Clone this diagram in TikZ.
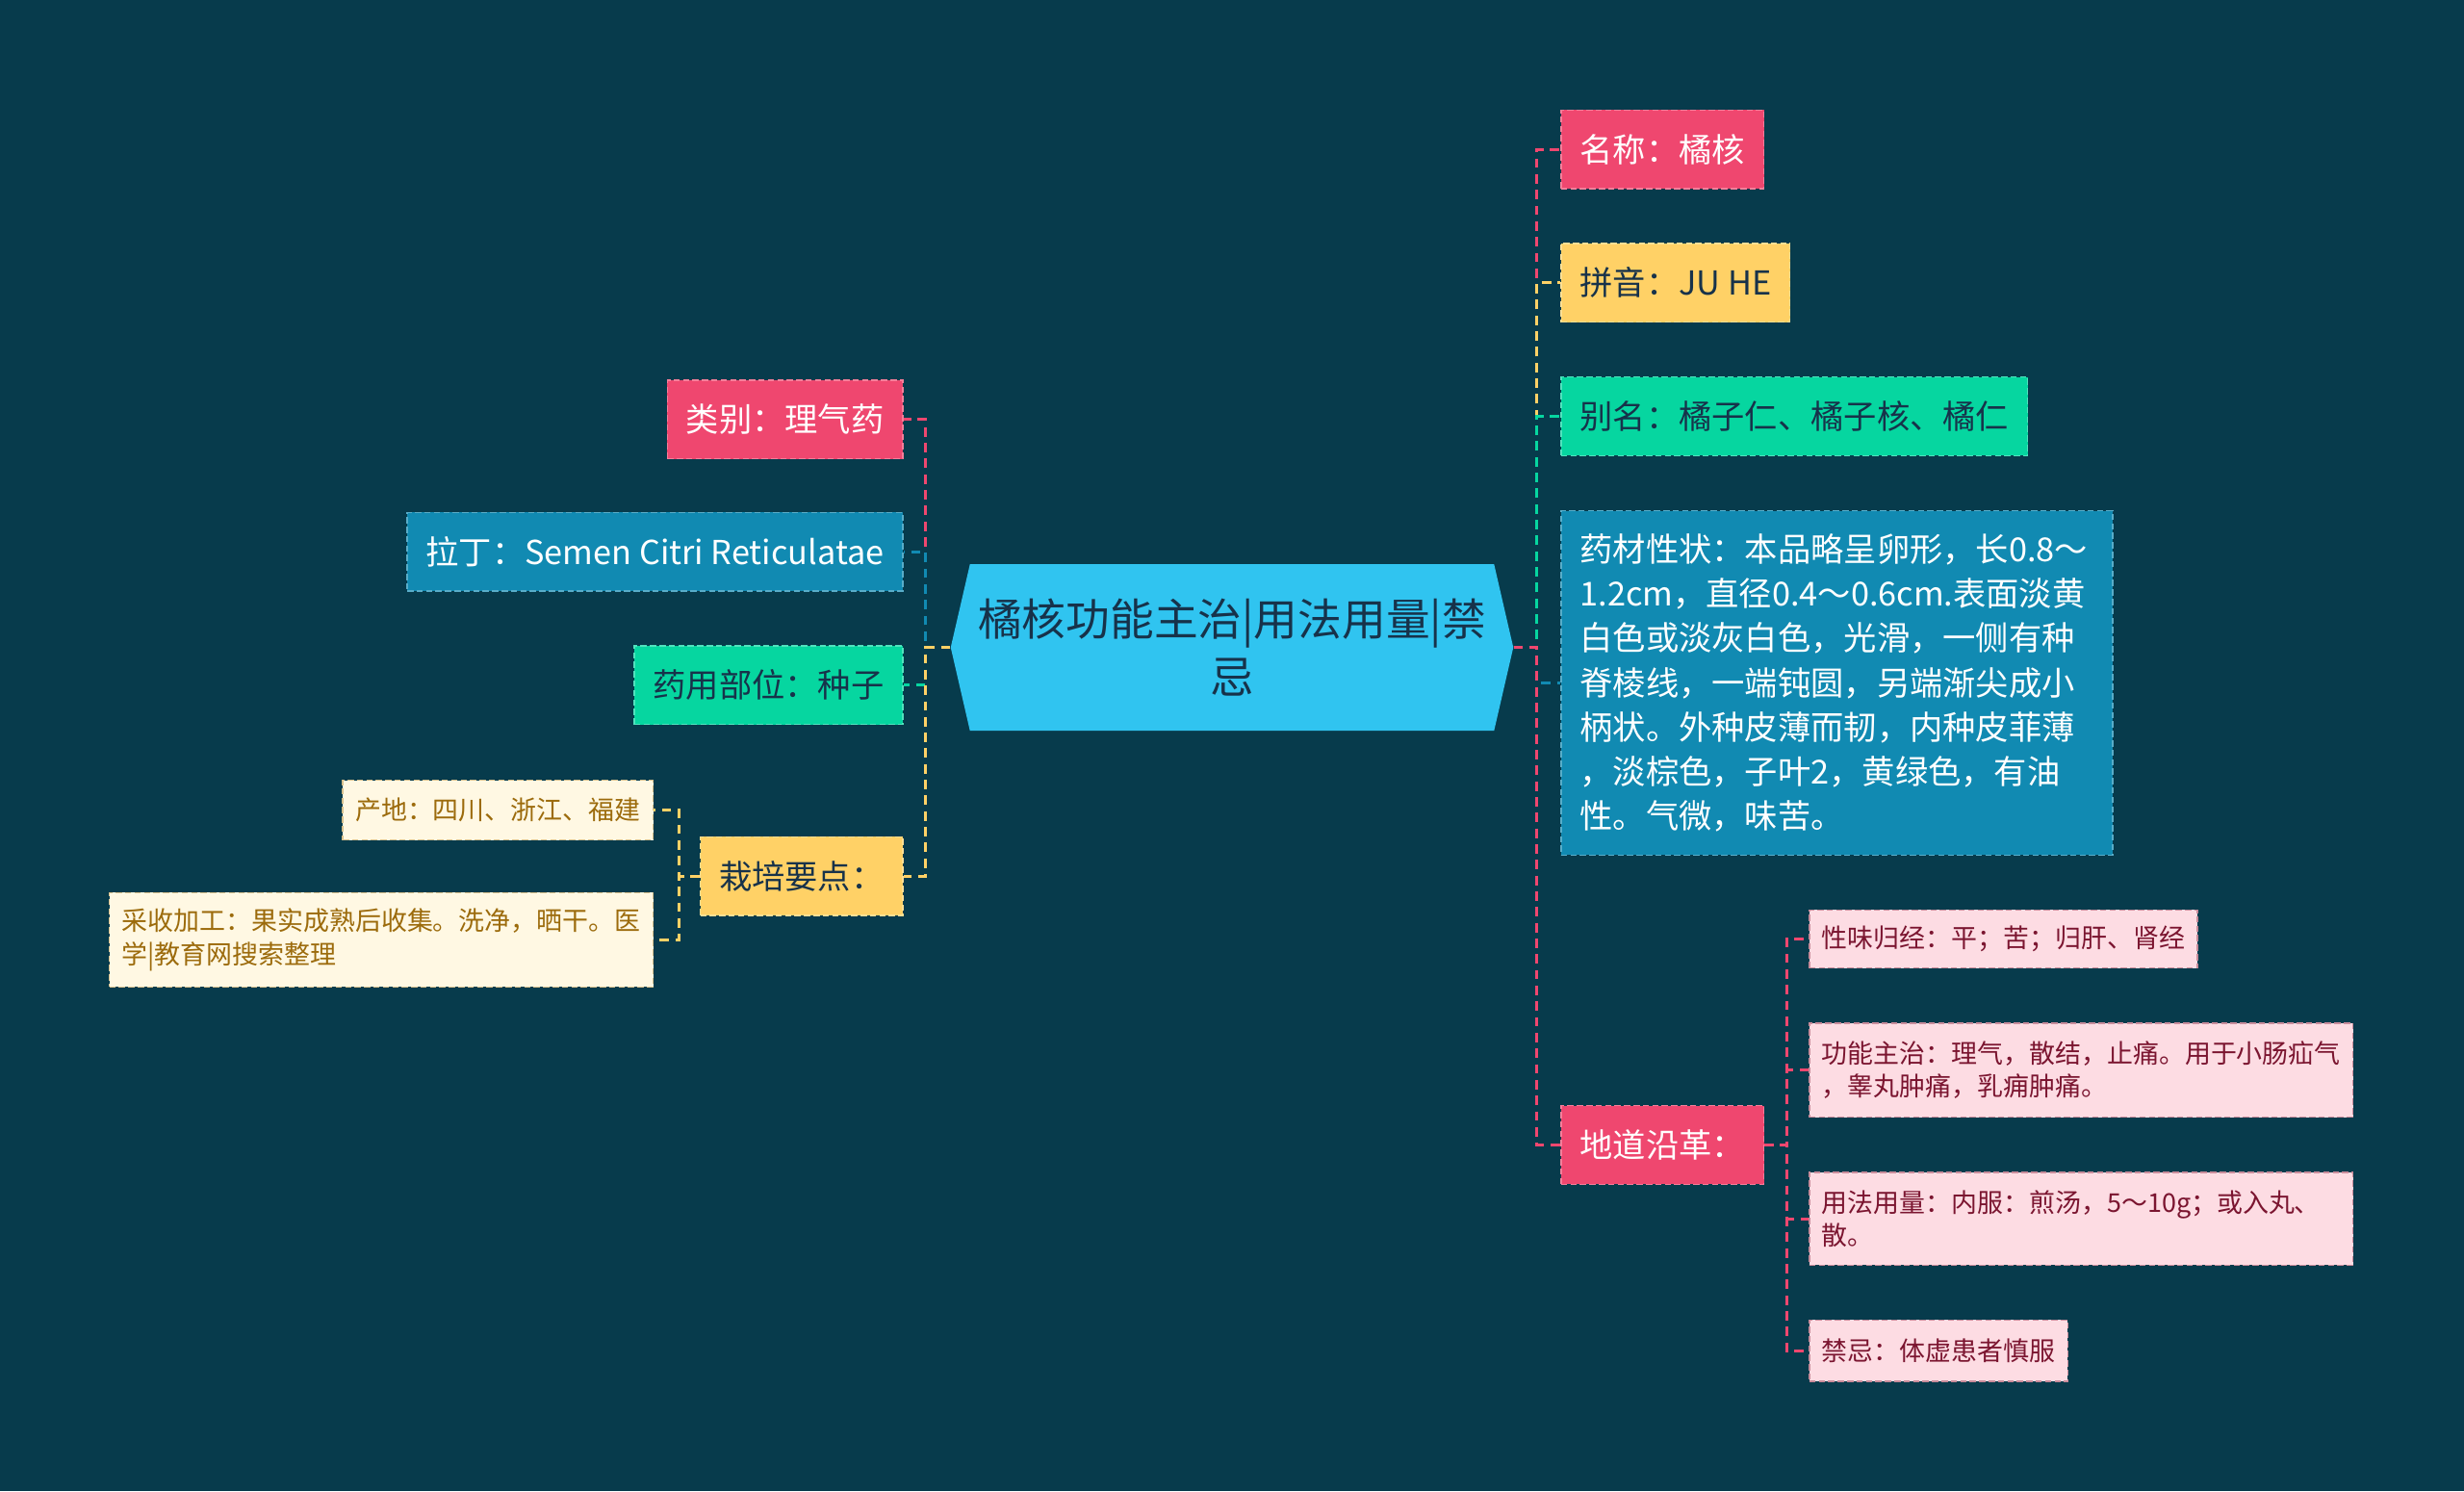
\documentclass[tikz,border=0pt]{standalone}
\usepackage{fontspec}
\setmainfont{Noto Sans CJK SC}
\usepackage{tikz}
\usetikzlibrary{positioning,shapes.symbols}
\definecolor{mapbg}{HTML}{073B4C}
\definecolor{mappink}{HTML}{EF476F}
\definecolor{mapyellow}{HTML}{FFD166}
\definecolor{mapgreen}{HTML}{06D6A0}
\definecolor{mapblue}{HTML}{118AB2}
\definecolor{maproot}{HTML}{30C4F0}
\definecolor{mapdark}{HTML}{17324A}
\definecolor{mapcream}{HTML}{FFF8E3}
\definecolor{mapolive}{HTML}{9C6B0C}
\definecolor{maprose}{HTML}{FDDCE3}
\definecolor{mapwine}{HTML}{7B1530}
\tikzset{
  rootbox/.style={signal, signal to=east and west, signal pointer angle=154,
    fill=maproot, text=mapdark, minimum width=358pt, minimum height=106pt,
    inner sep=0pt, align=center, font=\fontsize{28}{37}\selectfont},
  topic/.style={draw, dash pattern=on 4pt off 2pt, line width=0.8pt,
    inner xsep=12pt, inner ysep=0pt, minimum height=50pt, align=left,
    font=\fontsize{21}{28.3}\selectfont},
  topicpink/.style={topic, fill=mappink, draw=mappink!70!white, text=white},
  topicyellow/.style={topic, fill=mapyellow, draw=mapyellow!70!white, text=mapdark},
  topicgreen/.style={topic, fill=mapgreen, draw=mapgreen!70!white, text=mapdark},
  topicblue/.style={topic, fill=mapblue, draw=mapblue!70!white, text=white},
  subbox/.style={draw, dash pattern=on 4pt off 2pt, line width=0.8pt,
    inner xsep=8pt, inner ysep=0pt, align=left,
    font=\fontsize{16.5}{21}\selectfont},
  subcream/.style={subbox, fill=mapcream, draw=mapcream!60!mapolive, text=mapolive},
  subrose/.style={subbox, fill=maprose, draw=maprose!60!mapwine, text=mapwine},
  link/.style={line width=1.8pt, dash pattern=on 6pt off 4pt},
}
\begin{document}
\begin{tikzpicture}[x=1pt, y=-1pt]
  \fill[mapbg] (0,0) rectangle (1568,949);

  % centre topic
  \node[rootbox] (root) at (784,412) {橘核功能主治|用法用量|禁\\忌};

  % right side
  \node[topicpink, anchor=west] (mingcheng) at (993,95) {名称：橘核};
  \node[topicyellow, anchor=west] (pinyin) at (993,180) {拼音：JU HE};
  \node[topicgreen, anchor=west] (bieming) at (993,265) {别名：橘子仁、橘子核、橘仁};
  \node[topicblue, anchor=west, text width=327pt, minimum height=219pt] (xingzhuang) at (993,434.5)
    {药材性状：本品略呈卵形，长0.8～\\1.2cm，直径0.4～0.6cm.表面淡黄\\白色或淡灰白色，光滑，一侧有种\\脊棱线，一端钝圆，另端渐尖成小\\柄状。外种皮薄而韧，内种皮菲薄\\，淡棕色，子叶2，黄绿色，有油\\性。气微，味苦。};
  \node[topicpink, anchor=west] (didao) at (993,728.5) {地道沿革：};

  \node[subrose, anchor=west, minimum height=37pt] (xingwei) at (1151,597.5) {性味归经：平；苦；归肝、肾经};
  \node[subrose, anchor=west, text width=330pt, minimum height=60pt] (gongneng) at (1151,681)
    {功能主治：理气，散结，止痛。用于小肠疝气\\，睾丸肿痛，乳痈肿痛。};
  \node[subrose, anchor=west, text width=330pt, minimum height=59pt] (yongfa) at (1151,775.5)
    {用法用量：内服：煎汤，5～10g；或入丸、\\散。};
  \node[subrose, anchor=west, minimum height=39pt] (jinji) at (1151,859.5) {禁忌：体虚患者慎服};

  % left side
  \node[topicpink, anchor=east] (leibie) at (575,267) {类别：理气药};
  \node[topicblue, anchor=east] (lading) at (575,351) {拉丁：Semen Citri Reticulatae};
  \node[topicgreen, anchor=east] (buwei) at (575,436) {药用部位：种子};
  \node[topicyellow, anchor=east] (zaipei) at (575,557.5) {栽培要点：};

  \node[subcream, anchor=east, minimum height=38pt] (chandi) at (416,515.5) {产地：四川、浙江、福建};
  \node[subcream, anchor=east, text width=330pt, minimum height=60pt] (caishou) at (416,598)
    {采收加工：果实成熟后收集。洗净，晒干。医\\学|教育网搜索整理};

  % connectors
  \coordinate (rtrunk) at (978,412);
  \draw[link, mappink] (root.east) -- (rtrunk) |- (mingcheng.west);
  \draw[link, mapyellow] (root.east) -- (rtrunk) |- (pinyin.west);
  \draw[link, mapgreen] (root.east) -- (rtrunk) |- (bieming.west);
  \draw[link, mapblue] (root.east) -- (rtrunk) |- (xingzhuang.west);
  \draw[link, mappink] (root.east) -- (rtrunk) |- (didao.west);

  \coordinate (dtrunk) at (1137,728.5);
  \draw[link, mappink] (didao.east) -- (dtrunk) |- (xingwei.west);
  \draw[link, mappink] (didao.east) -- (dtrunk) |- (gongneng.west);
  \draw[link, mappink] (didao.east) -- (dtrunk) |- (yongfa.west);
  \draw[link, mappink] (didao.east) -- (dtrunk) |- (jinji.west);

  \coordinate (ltrunk) at (589,412);
  \draw[link, mappink] (root.west) -- (ltrunk) |- (leibie.east);
  \draw[link, mapblue] (root.west) -- (ltrunk) |- (lading.east);
  \draw[link, mapgreen] (root.west) -- (ltrunk) |- (buwei.east);
  \draw[link, mapyellow] (root.west) -- (ltrunk) |- (zaipei.east);

  \coordinate (ztrunk) at (432,557.5);
  \draw[link, mapyellow] (zaipei.west) -- (ztrunk) |- (chandi.east);
  \draw[link, mapyellow] (zaipei.west) -- (ztrunk) |- (caishou.east);
\end{tikzpicture}
\end{document}
